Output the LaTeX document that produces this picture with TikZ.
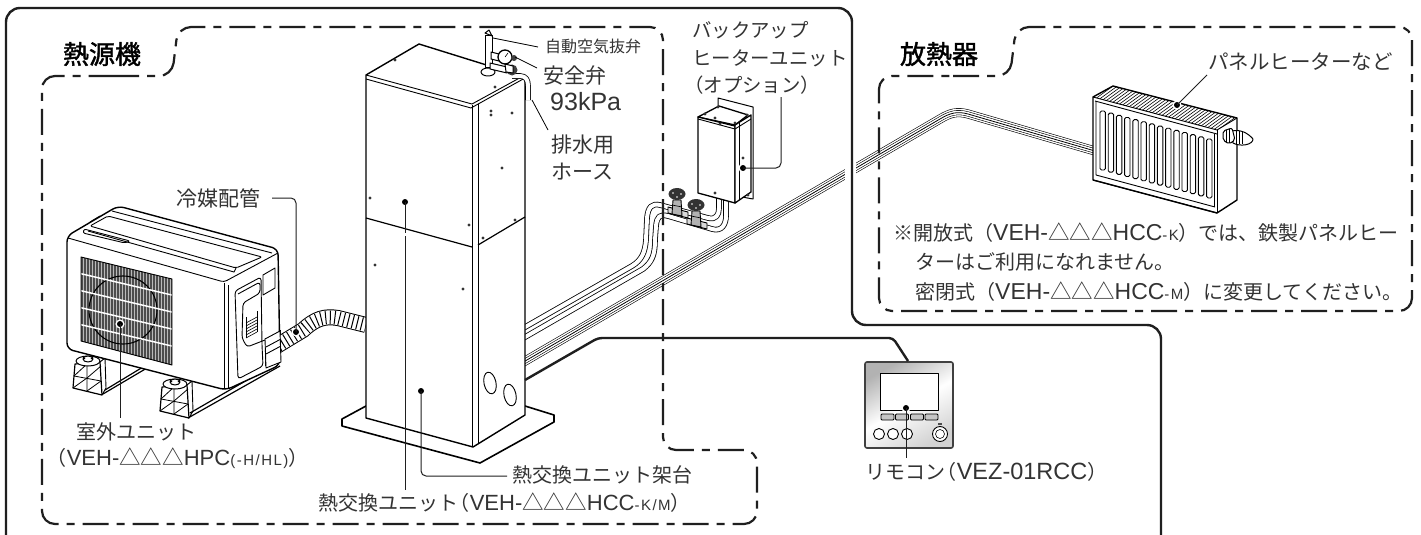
\documentclass[tikz,border=0pt]{standalone}
\usepackage{fontspec}
\setmainfont{Noto Sans CJK JP}
\newfontfamily\latf{Liberation Sans}
\newfontfamily\latsf[LetterSpace=10]{Liberation Sans}
\newfontfamily\hdf[FakeBold=1.6]{Noto Sans CJK JP}
\newcommand\fs[1]{\fontsize{#1}{#1}\selectfont}
\newcommand\lat[2][22]{{\latf\fs{#1}#2}}
\newcommand\latS[1]{{\latsf\fs{15}#1}}
\newcommand\tri{{\fs{21.5}△△△}}
\newcommand\lp{\hspace{-.42em}（}
\usetikzlibrary{calc}
\definecolor{ink}{gray}{0.12}
\definecolor{txt}{gray}{0.2}
\tikzset{
  x=1pt,y=-1pt,
  lab/.style={inner sep=0pt,anchor=west,text=txt,font=\fs{20}},
  head/.style={inner sep=0pt,text=black,font=\hdf\fs{26}},
  frame/.style={line width=2.4pt,draw=ink,rounded corners=14pt},
  dashframe/.style={line width=2.2pt,draw=ink,dash pattern=on 26pt off 8pt on 8pt off 8pt,rounded corners=13pt},
  obj/.style={line width=1pt,draw=black,fill=white,line join=round},
  ln/.style={line width=.9pt,draw=black,line join=round},
  thinln/.style={line width=.6pt,draw=black},
  leader/.style={line width=1pt,draw=ink,rounded corners=5pt},
  screw/.style={fill=black!80},
}
% double-wall tube and four-line bundle
\newcommand\tube[1]{%
  \draw[line width=5.6pt,black,line join=round] #1;
  \draw[line width=4pt,white,line join=round] #1;}
\newcommand\bundle[1]{%
  \draw[line width=9pt,black,line join=round] #1;
  \draw[line width=7.8pt,white,line join=round] #1;
  \draw[line width=5pt,black,line join=round] #1;
  \draw[line width=3.8pt,white,line join=round] #1;
  \draw[line width=.8pt,black,line join=round] #1;}
\newcommand\sdot[2]{\fill[screw] (#1,#2) circle (1.6pt);}
\newcommand\ldot[3]{\fill[white] (#2,#3) circle (4.6pt);\fill[black] (#2,#3) circle (3pt);\coordinate (#1) at (#2,#3);}
\newcommand\stand[2]{%
\begin{scope}[shift={(#1,#2)}]
  \draw[obj,line width=1.2pt] (2,8) -- (27,6) -- (29,39) -- (0,32) -- cycle;
  \draw[ln] (27,6) -- (32,2) -- (33,32) -- (29,39);
  \draw[thinln,line width=.8pt] (1,20) -- (28,25) (14,8) -- (14,35);
  \draw[thinln,line width=.8pt] (1,20) -- (14,8) (14,22) -- (28,10) (0,32) -- (14,22) (14,35) -- (28,25);
  \draw[obj] (15,5) ellipse (12pt and 5pt);
  \draw[obj] (15,3) ellipse (5pt and 3pt);
  \draw[ln] (10,1) -- (12,3) (20,1) -- (18,3);
\end{scope}}
\begin{document}
\begin{tikzpicture}
\useasboundingbox (0,0) rectangle (1421,535);
\fill[white] (0,0) rectangle (1421,535);

%% ---- outdoor unit: stands and rails
\draw[ln,line width=1.2pt] (103,394) -- (147,368) (105,390) -- (143,367);
\draw[ln,line width=1.2pt] (188,418) -- (280,366) (190,413) -- (280,361);
\stand{73}{356}
\stand{160}{379}

%% ---- outdoor unit: body
\draw[obj,line width=1.4pt,rounded corners=6pt] (67,236) -- (118,206) -- (278,249) -- (280,365) -- (226,390) -- (67,349) -- cycle;
\draw[ln,rounded corners=3pt] (68,238) -- (224,282) -- (278,253);
\draw[ln] (224,283) -- (224,389) (228,285) -- (228,388);
\draw[ln] (112,211) -- (272,253);
\draw[ln,rounded corners=2pt] (108,216) -- (262,257) -- (236,268) -- (90,226) -- cycle;
\draw[ln,rounded corners=2pt] (84,229) -- (130,241) -- (125,243) -- (83,233) -- cycle;
\draw[ln] (90,222) -- (100,216);
\draw[ln] (236,268) -- (234,272) -- (88,231);
%% grille
\begin{scope}
  \clip (81,257) -- (172,279) -- (172,365) -- (81,341) -- cycle;
  \fill[gray!55] (75,250) rectangle (175,370);
  \foreach \i in {0,...,62} {\draw[black!70,line width=.7pt] ({81+\i*1.5},250) -- ({81+\i*1.5},370);}
  \draw[black,line width=1.1pt] (123,310) circle (34pt);
  \foreach \k in {1,2,3,4} {\draw[white,line width=1.5pt] (78,{257+\k*17-1}) -- (176,{280+\k*17-1});}
\end{scope}
\draw[ln] (81,257) -- (172,279) -- (172,365) -- (81,341) -- cycle;
%% side cover
\draw[ln,rounded corners=3pt] (235,291) -- (261,277) -- (262,345) -- (263,366) -- (238,379) -- cycle;
\draw[ln,rounded corners=3pt] (238,294) -- (260,282) -- (260,293) -- (243,303) -- (242,338) -- (247,347) -- (265,340);
\foreach \k in {0,...,5} {\draw[thinln] (246,{323+\k*3}) -- (257,{317+\k*3});}
\draw[ln] (246,317) -- (246,338) (257,311) -- (257,332);
\draw[ln] (263,275) -- (275,268) -- (275,288) -- (263,295) -- cycle;
\draw[ln] (265,338) -- (265,366) (280,330) -- (280,362);

%% ---- refrigerant duct
\newcommand\ductpath{(270,350) -- (303,330) .. controls (316,318) and (325,316) .. (338,318) -- (366,325)}
\draw[line width=16pt,black] \ductpath;
\draw[line width=14pt,white] \ductpath;
\draw[line width=13.6pt,black,dash pattern=on 1pt off 3.6pt] \ductpath;
\draw[ln,fill=white] (265,339) -- (280,331) -- (281,362) -- (266,368) -- cycle;
\draw[ln] (266,347) -- (281,339) (266,354) -- (281,346);

%% ---- pipes behind the column
\tube{(520,330) -- (632,266) .. controls (642,260) and (645,252) .. (646,240) -- (647,218) .. controls (648,207) and (652,203) .. (660,205) -- (708,218) .. controls (716,220) and (719,215) .. (719,208) -- (719,198)}
\tube{(520,340) -- (643,269) .. controls (652,262) and (655,255) .. (655,240) -- (656,226) .. controls (657,216) and (660,214) .. (668,216) -- (712,229) .. controls (722,232) and (726,224) .. (726,216) -- (726,198)}
\bundle{(520,364) -- (940,119) .. controls (950,113) and (957,111) .. (968,114) -- (1095,151)}
\fill[white] (845,150) rectangle (856,190);

%% ---- valves
\foreach \vx/\vy in {677/206,696/217} {
  \draw[ln,fill=gray!30] (\vx-9,\vy+1) -- (\vx+11,\vy+6) -- (\vx+11,\vy+12) -- (\vx-9,\vy+7) -- cycle;
  \draw[ln,fill=gray!60] (\vx-4,\vy-6) -- (\vx+4,\vy-6) -- (\vx+5,\vy+10) -- (\vx-5,\vy+8) -- cycle;
  \draw[thinln] (\vx-5,\vy-1) -- (\vx+5,\vy+1);
  \fill[black!80] (\vx,\vy-12) ellipse (8.5pt and 6pt);
  \fill[white] (\vx-4,\vy-13) circle (.8pt) (\vx+4,\vy-12) circle (.8pt) (\vx,\vy-9) circle (.8pt);
}

%% ---- backup heater box
\draw[obj] (718,98) -- (753,107) -- (753,199) -- (742,197) -- (742,140) -- (718,120) -- cycle;
\draw[obj,line width=1.3pt] (698,117) -- (719,106) -- (748,115) -- (735,125) -- cycle;
\draw[obj,line width=1.3pt] (698,117) -- (735,126) -- (735,203) -- (698,193) -- cycle;
\draw[obj,line width=1.3pt] (735,125) -- (751,115) -- (751,192) -- (735,203) -- cycle;
\draw[ln] (698,119) -- (735,129) -- (751,119);
\draw[ln] (739,123) -- (739,200);
\foreach \p/\q in {705/114,718/107,747/115,735/123,715/118,720/124,743/158,715/193,748/195} {\sdot{\p}{\q}}
\ldot{bk}{743}{168}

%% ---- column base and column
\draw[obj,line width=1.6pt] (366,406) -- (342,419) -- (342,426) -- (480,463) -- (554,422) -- (554,415) -- (525,406) -- cycle;
\draw[obj,line width=1.4pt] (366,75) -- (419,44) -- (525,77) -- (525,415) -- (473,447) -- (366,418) -- cycle;
\draw[ln] (366,79) -- (471,108) -- (525,78);
\draw[ln] (366,75) -- (472,104) -- (525,75);
\draw[ln] (472,105) -- (472,446) (478,104) -- (478,444);
\draw[ln,line width=1.2pt] (366,218) -- (472,247) (478,245) -- (525,217);
\draw[ln,rotate around={12:(490,383)}] (490,383) ellipse (6pt and 11pt);
\draw[ln,rotate around={12:(510,395)}] (510,395) ellipse (6pt and 11pt);
\foreach \p/\q in {370/198,469/225,375/265,463/289,502/168,515/220,483/238,495/87,395/60,491/111,491/115,512/113} {\sdot{\p}{\q}}

%% ---- fittings on the column
\tube{(512,76) -- (520,76) .. controls (526,76) and (528,80) .. (528,86) -- (528,100)}
\draw[obj] (488,72) ellipse (7pt and 4pt);
\draw[obj] (485,36) rectangle (492,68);
\draw[obj] (485,33) -- (489,30) -- (492,36) -- cycle;
\draw[obj] (491,52) -- (503,55) -- (503,62) -- (491,59) -- cycle;
\draw[obj] (490,63) -- (507,67) -- (507,73) -- (490,69) -- cycle;
\draw[obj,line width=1.3pt] (505,57) circle (7pt);
\draw[thinln] (505,57) -- (508,53);
\fill[black!75] (512,70) circle (5.5pt);
\fill[black!75] (514,58) circle (3pt);
\draw[obj] (505,64) -- (513,66) -- (513,73) -- (506,72) -- cycle;

%% ---- radiator
\draw[obj,line width=1.4pt] (1093,97) -- (1113,86) -- (1237,118) -- (1237,200) -- (1217,213) -- (1093,180) -- cycle;
\begin{scope}
  \clip (1093,97) -- (1113,86) -- (1237,118) -- (1217,130) -- cycle;
  \foreach \i in {0,...,44} {\draw[thinln] ({1092+\i*3.3},{98+\i*0.85}) -- ({1114+\i*3.3},{82+\i*0.85});}
\end{scope}
\draw[ln] (1093,97) -- (1217,130) -- (1237,118);
\draw[ln] (1095,101) -- (1217,134);
\draw[ln] (1096,101) -- (1096,175) -- (1215,207);
\draw[ln] (1217,130) -- (1217,213) (1214,134) -- (1214,207);
\draw[ln] (1093,180) -- (1217,213);
\foreach \i in {0,...,13} {\draw[ln,rounded corners=1.5pt] ({1100+\i*8.2},{111+\i*2.15}) rectangle ({1105.4+\i*8.2},{170+\i*2.15});}
\draw[obj] (1232,131) .. controls (1240,129) and (1248,133) .. (1253,139) .. controls (1253,145) and (1240,147) .. (1233,143) -- cycle;
\draw[obj,rounded corners=2pt] (1223,131) -- (1232,128) -- (1235,140) -- (1229,144) -- (1223,140) -- cycle;
\foreach \rx in {1236,1239,1242} {\draw[thinln] (\rx,131) -- (\rx,144);}
\draw[thinln] (1226,130) -- (1226,142) (1229,129) -- (1229,143);

%% ---- remote controller
\draw[line width=1.6pt,draw=black!75,rounded corners=2pt,left color=gray!60,right color=gray!35,middle color=white,shading angle=30] (865,362) rectangle (953,448);
\draw[ln,fill=white] (880,373) rectangle (938,410);
\foreach \bx in {881,895.5,910.5,925} {\draw[ln,fill=gray!45,rounded corners=1pt] (\bx,414) rectangle ++(13,6);}
\foreach \cx in {879,893,907} {\draw[ln,fill=white] (\cx,434) circle (5.5pt);}
\draw[ln,fill=white] (940,434) circle (7.5pt);
\draw[thinln] (940,434) circle (4.5pt);
\fill[black!70] (938,423) rectangle (942,425);
\ldot{rem}{906}{408}

%% ---- enclosing frames
\draw[frame] (6,540) -- (6,8) -- (852,8) -- (852,325) -- (1161,325) -- (1161,540);
\draw[line width=2.4pt,draw=ink,rounded corners=4pt] (525,380) -- (598,338) -- (893,338) -- (908,361);
\draw[dashframe] (100,76) -- (172,76) -- (178,27) -- (663,27) -- (663,450) -- (757,450) -- (757,524) -- (42,524) -- (42,76) -- cycle;
\draw[dashframe] (940,76) -- (1010,76) -- (1016,27) -- (1412,27) -- (1412,311) -- (879,311) -- (879,76) -- cycle;

%% ---- leaders
\ldot{ou}{120}{324}
\ldot{duct}{296}{332}
\ldot{col}{405}{202}
\ldot{base}{421}{391}
\ldot{rad}{1177}{105}

\node[head] (hA) at (102,54) {熱源機};
\node[head] (hB) at (939,54) {放熱器};
\node[lab,font=\fs{21}] (lDuct) at (176,198) {冷媒配管};
\node[lab] (lOu) at (76,432) {室外ユニット};
\node[lab] (lOu2) at (55,458) {\lp\lat{VEH-}\tri\lat{HPC}\latS{(-H/HL)}）};
\node[lab] (lBase) at (512,475) {熱交換ユニット架台};
\node[lab] (lCol) at (318,503) {熱交換ユニット\lp\lat{VEH-}\tri\lat{HCC}\latS{-K/M}）};
\node[lab,font=\fs{16}] (lAir) at (545,46) {自動空気抜弁};
\node[lab,font=\fs{21}] (lSafe) at (543,75) {安全弁};
\node[lab] (lKpa) at (550,102) {\lat[25]{93kPa}};
\node[lab,font=\fs{21}] (lDrain) at (551,145) {排水用};
\node[lab,font=\fs{21}] (lHose) at (551,172) {ホース};
\node[lab,font=\fs{19.4}] (lBk1) at (692,30) {バックアップ};
\node[lab,font=\fs{19.4}] (lBk2) at (692,58) {ヒーターユニット};
\node[lab,font=\fs{19.4}] (lBk3) at (684,85) {（オプション）};
\node[lab,font=\fs{20.5}] (lRad) at (1208,62) {パネルヒーターなど};
\node[lab] (lN1) at (893,233) {※開放式（\lat[23]{VEH-}\tri\lat[23]{HCC}\latS{-K}）では、鉄製パネルヒー};
\node[lab] (lN2) at (915,262) {ターはご利用になれません。};
\node[lab] (lN3) at (915,292) {密閉式（\lat[23]{VEH-}\tri\lat[23]{HCC}\latS{-M}）に変更してください。};
\node[lab] (lRem) at (865,472) {リモコン\lp\lat[23.5]{VEZ-01RCC}）};

\coordinate (dA) at (272,198);
\draw[leader] (dA) -- (296,198) -- (duct);
\draw[leader] (ou) -- (120,418);
\draw[leader] (col) -- (405,233) (405,236) -- (405,490);
\draw[leader] (base) -- (421,476) -- (507,476);
\draw[leader] (rem) -- (906,458);
\draw[leader] (bk) -- (781,168) -- (781,97);
\draw[leader] (rad) -- (1207,75);
\draw[thinln,line width=.8pt] (493,38) -- (538,47);
\draw[thinln,line width=.8pt] (515,57) -- (537,68);
\draw[thinln,line width=.8pt] (532,100) -- (548,130);
\end{tikzpicture}
\end{document}
